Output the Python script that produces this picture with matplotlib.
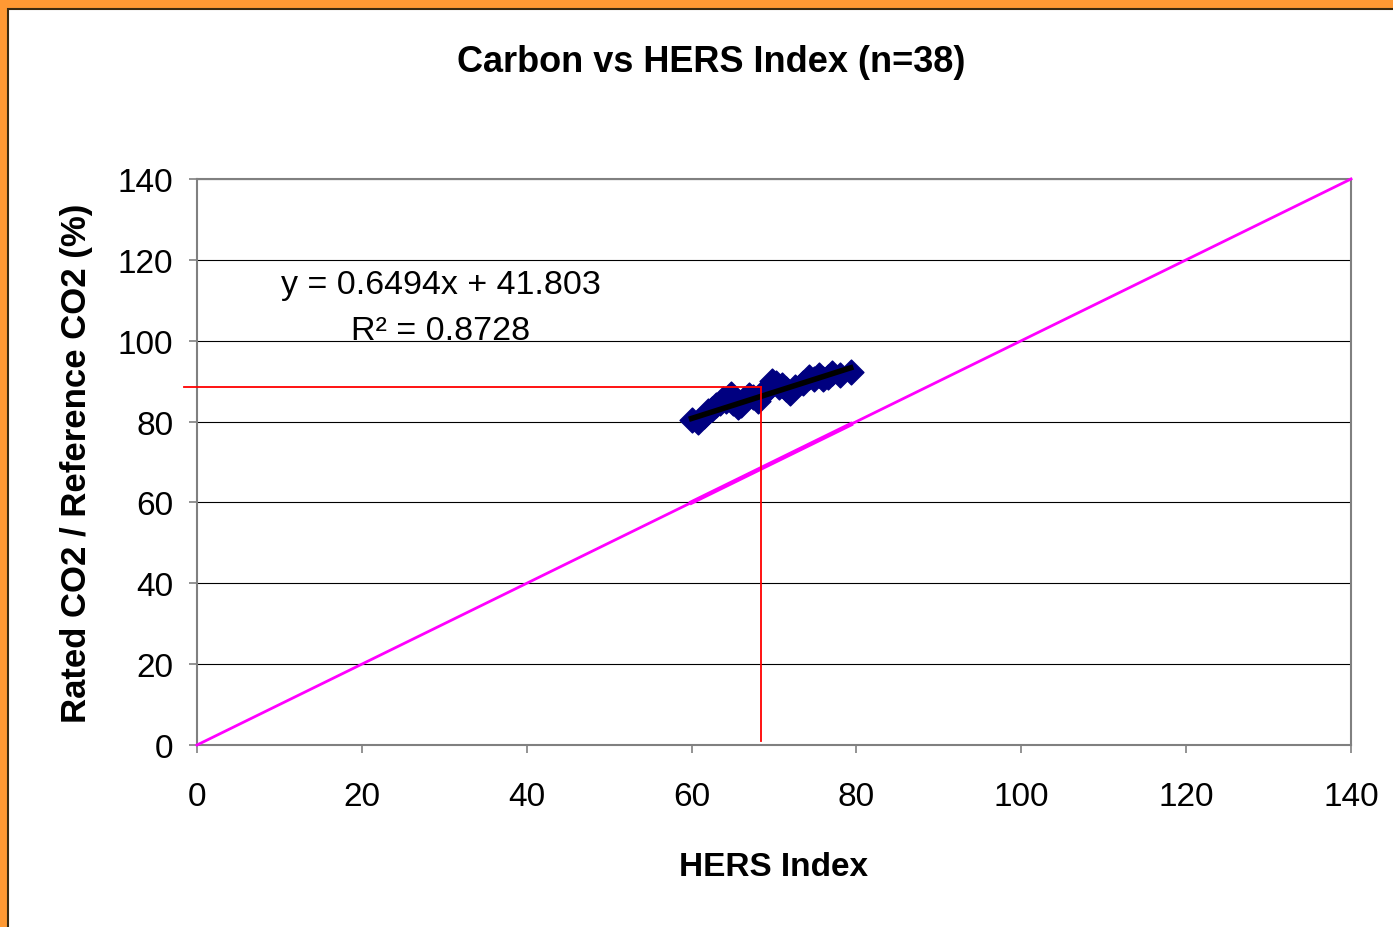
import numpy as np
import matplotlib.pyplot as plt
from matplotlib.patches import Rectangle

plt.rcParams['font.family'] = ['Liberation Sans', 'DejaVu Sans']

# HERS index vs rated/reference CO2
hers = [60.0, 60.8, 61.5, 62.0, 62.5, 63.0, 63.5, 63.8, 64.2, 64.5,
        64.8, 65.0, 65.3, 65.6, 66.0, 66.4, 67.0, 67.5, 68.0, 68.5,
        69.0, 69.5, 69.8, 70.2, 70.6, 71.0, 71.5, 72.0, 72.5, 73.5,
        74.2, 74.8, 75.5, 76.0, 76.5, 77.0, 78.0, 79.3]
co2 = [80.5, 80.0, 81.5, 82.5, 83.0, 84.0, 84.5, 85.5, 85.0, 86.0,
       86.8, 84.5, 85.5, 83.5, 84.0, 85.5, 86.5, 86.0, 85.0, 87.0,
       87.5, 88.5, 90.0, 89.5, 88.5, 89.0, 88.0, 87.0, 88.5, 89.5,
       91.0, 90.5, 91.5, 90.5, 91.0, 92.0, 91.5, 92.3]

# trendline reported on the chart
slope, intercept, r2 = 0.6494, 41.803, 0.8728

# 1:1 reference line
one_to_one = [0, 140]

# red marker lines
mark_x, mark_y = 68.4, 88.5

fig = plt.figure(figsize=(13.93, 9.28), dpi=100)
fig.patch.set_facecolor('#FF9933')
# white panel inside the orange frame
fig.patches.append(Rectangle((8 / 1393, -0.01), 1.02, 1 - 10 / 928 + 0.01,
                             transform=fig.transFigure, facecolor='white',
                             edgecolor='#3a2a10', linewidth=1.5, zorder=-10))

ax = fig.add_axes([197 / 1393, 1 - 746 / 928, (1351 - 197) / 1393, (746 - 180) / 928])
ax.set_xlim(0, 140)
ax.set_ylim(0, 140)
ax.set_xticks(np.arange(0, 141, 20))
ax.set_yticks(np.arange(0, 141, 20))
ax.yaxis.grid(True, color='black', linewidth=0.8)
ax.set_axisbelow(True)
for s in ax.spines.values():
    s.set_color('#808080')
    s.set_linewidth(1.5)
ax.tick_params(direction='out', length=6, width=1.2, color='#808080', labelsize=24)
ax.tick_params(axis='x', pad=20)
ax.tick_params(axis='y', pad=11)

# 1:1 line and the same line over the data range
ax.plot(one_to_one, one_to_one, color='#FF00FF', linewidth=2, zorder=3, clip_on=False)
hx = np.sort(np.array(hers))
ax.plot(hx, hx, color='#FF00FF', linewidth=3.2, zorder=3)

ax.scatter(hers, co2, marker='D', s=160, color='#000080', zorder=4)

tx = np.array([min(hers), max(hers)])
ax.plot(tx, slope * tx + intercept, color='black', linewidth=4, zorder=5)

# red guide lines
ax.plot([-1.6, mark_x], [mark_y, mark_y], color='red', linewidth=1.3, zorder=6, clip_on=False)
ax.plot([mark_x, mark_x], [mark_y, 1], color='red', linewidth=1.3, zorder=6)

ax.text(29.6, 114.0, f'y = {slope}x + {intercept}', fontsize=24.5, ha='center', va='center')
ax.text(29.6, 102.5, f'R² = {r2}', fontsize=24.5, ha='center', va='center')

fig.text(711 / 1393, 1 - 62 / 928, 'Carbon vs HERS Index (n=38)', fontsize=26,
         fontweight='bold', ha='center', va='center')
ax.set_xlabel('HERS Index', fontsize=24, fontweight='bold', labelpad=28)
ax.set_ylabel('Rated CO2 / Reference CO2 (%)', fontsize=25, fontweight='bold', labelpad=18)

fig.savefig('out.png', dpi=100, facecolor=fig.get_facecolor())
